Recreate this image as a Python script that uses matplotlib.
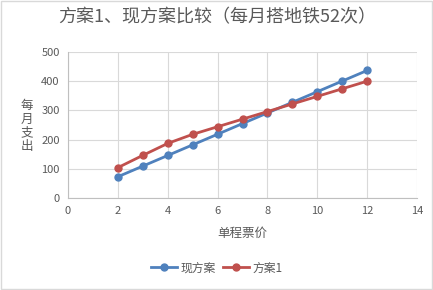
import numpy as np
import matplotlib
matplotlib.use("Agg")
import matplotlib.pyplot as plt

plt.rcParams['font.family'] = ['Noto Sans CJK SC', 'DejaVu Sans']

fare = [2, 3, 4, 5, 6, 7, 8, 9, 10, 11, 12]
current_plan = [72.8, 109.2, 145.6, 182, 218.4, 254.8, 291.2, 327.6, 364, 400.4, 436.8]
plan1 = [104, 146, 187, 218, 244, 270, 296, 322, 348, 374, 400]

grey = "#595959"
fig = plt.figure(figsize=(4.33, 2.9), dpi=100)
ax = fig.add_axes([68/433, 1 - 198/290, (417 - 68)/433, (198 - 52)/290])

ax.plot(fare, current_plan, color="#4f81bd", marker="o", markersize=5, lw=2, label="现方案")
ax.plot(fare, plan1, color="#c0504d", marker="o", markersize=5, lw=2, label="方案1")

ax.set_xlim(0, 14)
ax.set_ylim(0, 500)
ax.set_xticks(range(0, 15, 2))
ax.set_yticks(range(0, 501, 100))
ax.grid(True, color="#d9d9d9", lw=0.8)
ax.set_axisbelow(True)
for s in ax.spines.values():
    s.set_visible(False)
ax.spines['left'].set_visible(True)
ax.spines['bottom'].set_visible(True)
ax.spines['left'].set_color("#bfbfbf")
ax.spines['bottom'].set_color("#bfbfbf")
ax.tick_params(length=0, colors=grey, labelsize=8, pad=6)

fig.text(217/433, 1 - 17/290, "方案1、现方案比较（每月搭地铁52次）", ha="center", va="center",
         fontsize=13, color=grey)
fig.text(27/433, 1 - 126/290, "每\n月\n支\n出", ha="center", va="center",
         fontsize=9, color=grey, linespacing=1.05)
fig.text(242/433, 1 - 233/290, "单程票价", ha="center", va="center", fontsize=9, color=grey)

leg = fig.legend(loc="center", bbox_to_anchor=(217/433, 1 - 268/290), ncol=2, frameon=False,
                 fontsize=8.5, handlelength=2.2, columnspacing=0.6, handletextpad=0.3)
for t in leg.get_texts():
    t.set_color(grey)

fig.patches.append(plt.Rectangle((0.002, 0.003), 0.995, 0.994, transform=fig.transFigure,
                                 fill=False, edgecolor="#d9d9d9", lw=1))
fig.savefig("out.png", dpi=100)
